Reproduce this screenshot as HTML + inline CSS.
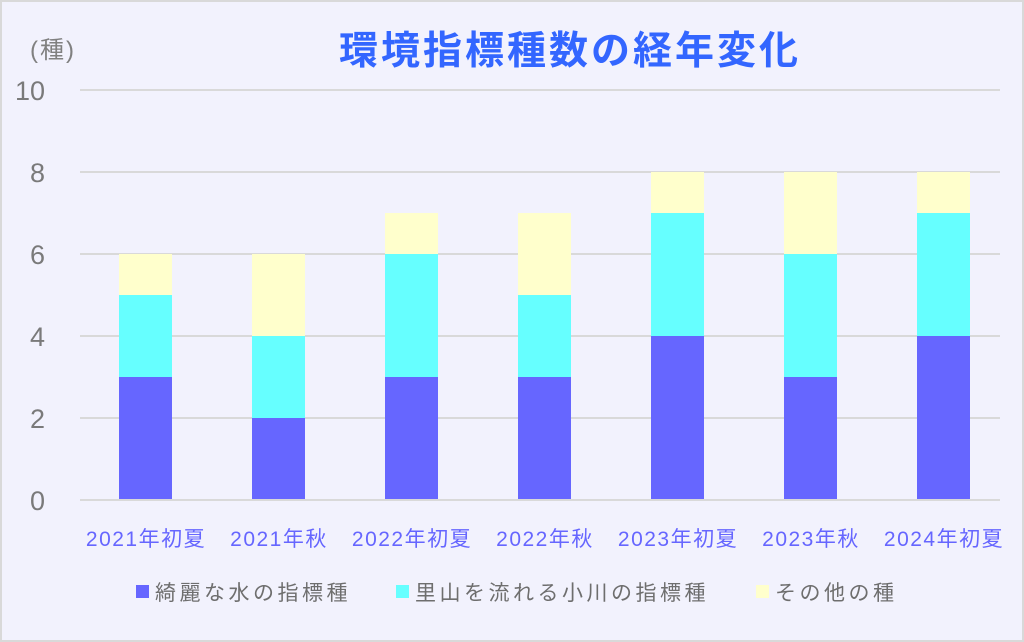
<!DOCTYPE html>
<html><head><meta charset="utf-8"><style>
body{margin:0;background:#fff}
svg{display:block}
text{font-family:"Liberation Sans","Noto Sans CJK JP",sans-serif}
</style></head><body>
<svg width="1024" height="642" viewBox="0 0 1024 642" xmlns="http://www.w3.org/2000/svg">
<rect x="1" y="1" width="1022" height="640" fill="#f2f2fd" stroke="#d9d9d9" stroke-width="2"/>
<text x="570" y="64" text-anchor="middle" font-size="39" font-weight="bold" letter-spacing="3" fill="#3366ff">環境指標種数の経年変化</text>
<text x="53" y="58" text-anchor="middle" font-size="24" letter-spacing="2" fill="#808080">(種)</text>
<g stroke="#d9d9d9" stroke-width="2">
<line x1="80" y1="90" x2="1000" y2="90"/><line x1="80" y1="172" x2="1000" y2="172"/>
<line x1="80" y1="254" x2="1000" y2="254"/><line x1="80" y1="336" x2="1000" y2="336"/>
<line x1="80" y1="418" x2="1000" y2="418"/>
</g>
<g font-size="27" fill="#7a7a7a" text-anchor="end">
<text x="45" y="100">10</text><text x="45" y="182">8</text><text x="45" y="264">6</text>
<text x="45" y="346">4</text><text x="45" y="428">2</text><text x="45" y="510">0</text>
</g>
<g>
<rect x="119" y="377" width="53" height="123" fill="#6666ff"/><rect x="119" y="295" width="53" height="82" fill="#66ffff"/><rect x="119" y="254" width="53" height="41" fill="#ffffcc"/>
<rect x="252" y="418" width="53" height="82" fill="#6666ff"/><rect x="252" y="336" width="53" height="82" fill="#66ffff"/><rect x="252" y="254" width="53" height="82" fill="#ffffcc"/>
<rect x="385" y="377" width="53" height="123" fill="#6666ff"/><rect x="385" y="254" width="53" height="123" fill="#66ffff"/><rect x="385" y="213" width="53" height="41" fill="#ffffcc"/>
<rect x="518" y="377" width="53" height="123" fill="#6666ff"/><rect x="518" y="295" width="53" height="82" fill="#66ffff"/><rect x="518" y="213" width="53" height="82" fill="#ffffcc"/>
<rect x="651" y="336" width="53" height="164" fill="#6666ff"/><rect x="651" y="213" width="53" height="123" fill="#66ffff"/><rect x="651" y="172" width="53" height="41" fill="#ffffcc"/>
<rect x="784" y="377" width="53" height="123" fill="#6666ff"/><rect x="784" y="254" width="53" height="123" fill="#66ffff"/><rect x="784" y="172" width="53" height="82" fill="#ffffcc"/>
<rect x="917" y="336" width="53" height="164" fill="#6666ff"/><rect x="917" y="213" width="53" height="123" fill="#66ffff"/><rect x="917" y="172" width="53" height="41" fill="#ffffcc"/>
</g>
<line x1="80" y1="500" x2="1000" y2="500" stroke="#d9d9d9" stroke-width="2"/>
<g font-size="21" fill="#6666ff" text-anchor="middle" letter-spacing="1.5">
<text x="146" y="546">2021年初夏</text><text x="279" y="546">2021年秋</text><text x="412" y="546">2022年初夏</text>
<text x="545" y="546">2022年秋</text><text x="678" y="546">2023年初夏</text><text x="811" y="546">2023年秋</text>
<text x="944" y="546">2024年初夏</text>
</g>
<g font-size="21" fill="#6e6e6e" letter-spacing="3.5">
<rect x="136" y="585" width="13" height="13" fill="#6666ff"/><text x="155" y="600">綺麗な水の指標種</text>
<rect x="396" y="585" width="13" height="13" fill="#66ffff"/><text x="415" y="600">里山を流れる小川の指標種</text>
<rect x="756" y="585" width="13" height="13" fill="#ffffcc"/><text x="775" y="600">その他の種</text>
</g>
</svg>
</body></html>
